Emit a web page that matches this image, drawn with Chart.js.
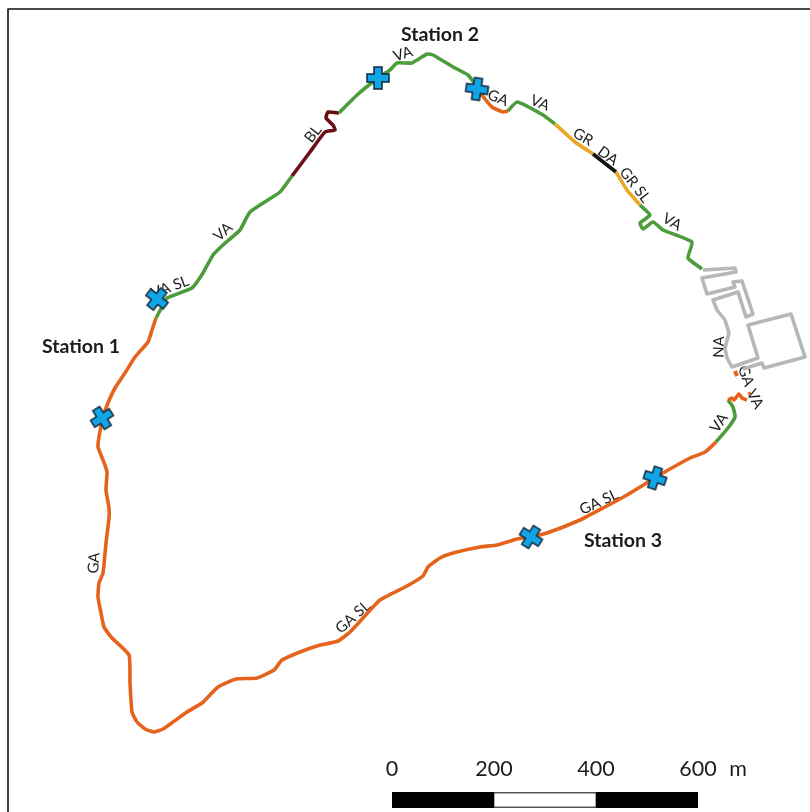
<!DOCTYPE html>
<html>
<head>
<meta charset="utf-8">
<style>
  html, body { margin: 0; background: #fff; }
  canvas { display: block; }
</style>
<script src="https://cdn.jsdelivr.net/npm/chart.js"></script>
</head>
<body>
<canvas id="chartMap" width="810" height="812"></canvas>
<script>
// route pieces as [east, south] in map units
const gaWest = [[156,318],[152,330],[148,342],[135,357],[125,373],[115,388],[108,403],[103,417],[99,437],[98,447],[103,460],[107,472],[106,490],[109,508],[109,518],[106,543],[103,573],[99,583],[98,597],[101,613],[104,627],[112,638],[129,655],[130,683],[132,712],[137,722],[145,729],[154,732],[163,729],[173,722],[187,712],[202,703],[218,687],[236,679],[257,678],[274,670],[282,660],[300,652],[317,646],[338,641],[350,632],[363,618],[380,600],[407,586],[423,576],[428,567],[440,558],[453,553],[480,547],[497,545],[517,539],[530,537],[547,533],[580,520],[603,508],[627,495],[655,478],[663,473],[690,458],[705,452],[716,442]];
const vaEast = [[716,442],[728,428],[735,417],[733,407],[728,400]];
const gaKink = [[728,400],[732,398],[734,400],[739,394],[742,398],[747,400]];
const gaDashA = [[735,371],[737,376]];
const gaDashB = [[749,392],[750,395]];
const vaNorthWest = [[156,318],[162,307],[167,298],[192,288],[203,273],[213,255],[223,245],[240,230],[250,212],[280,192],[292,176]];
const blStretch = [[292,176],[310,152],[325,132],[335,130],[333,125],[326,118],[328,112],[339,113]];
const vaNorth = [[339,113],[357,95],[378,78],[390,70],[397,63],[412,63],[427,54],[433,55],[453,67],[468,75],[478,88]];
const gaNorth = [[478,88],[482,95],[492,107],[503,112],[508,111]];
const vaNorthEast = [[508,111],[517,102],[543,115],[555,124]];
const grFirst = [[555,124],[575,142],[593,154]];
const daStretch = [[593,154],[616,172]];
const grSecond = [[616,172],[627,190],[640,205]];
const vaLast = [[640,205],[650,215],[640,223],[643,229],[653,222],[663,230],[692,242],[688,258],[702,269]];
const naOutline = [[703,270],[735,268],[736,272],[702,278],[707,294],[735,287],[733,282],[742,281],[753,314],[746,317],[738,292],[713,300],[717,310],[725,320],[729,333],[725,348],[727,358],[732,367],[758,358],[748,325],[791,314],[805,357],[764,368],[762,363],[743,369]];

const stationPoints = [[102,418],[157,299],[378,78],[477,89],[531,537],[655,478]];
const stationTurns = [-32,38,0,8,32,18];

const stationNames = ['Station 1', 'Station 2', 'Station 3'];
const stationNameSpots = [[81,347],[440,35],[623,541]];
const surfaceNames = ['VA','BL','VA','VA SL','GA','VA','GR','DA','GR SL','VA','NA','GA','VA','VA','GA','GA SL','GA SL'];
const surfaceSpots = [[403,54],[313,134],[223,232],[170,287],[498,98],[540,103],[583,137],[608,156],[635,185],[672,222],[719,347],[746,376],[755,399],[719,423],[94,563],[353,617],[599,502]];
const surfaceTurns = [-18,-52,-42,-20,22,22,30,35,52,30,-88,70,62,-55,-86,-42,-25];

const scaleTicks = [0, 200, 400, 600];
const scaleUnit = 'm';

const colors = { VA: '#4b9c3a', GA: '#e5631c', BL: '#6a0f14', GR: '#e6a825', DA: '#111111', NA: '#b7b7b7' };

// blue cross as a little canvas, chart.js rotates it per point
function makeCross() {
  const c = document.createElement('canvas');
  c.width = 26; c.height = 26;
  const g = c.getContext('2d');
  const a = 4, b = 11;
  g.translate(13, 13);
  g.beginPath();
  g.moveTo(-a,-b); g.lineTo(a,-b); g.lineTo(a,-a); g.lineTo(b,-a); g.lineTo(b,a); g.lineTo(a,a);
  g.lineTo(a,b); g.lineTo(-a,b); g.lineTo(-a,a); g.lineTo(-b,a); g.lineTo(-b,-a); g.lineTo(-a,-a);
  g.closePath();
  g.fillStyle = '#12a5e6';
  g.fill();
  g.lineWidth = 1.5;
  g.strokeStyle = '#10263a';
  g.stroke();
  return c;
}

const toPoints = (list) => list.map(p => ({ x: p[0], y: p[1] }));

function routeLine(list, color, width) {
  return {
    data: toPoints(list),
    showLine: true,
    borderColor: color,
    borderWidth: width || 3.6,
    borderJoinStyle: 'round',
    borderCapStyle: 'butt',
    tension: 0.15,
    pointRadius: 0,
    clip: false
  };
}

// scale bar follows the metre ticks
const barX = (m) => 392 + m * 0.51;
const barY = 800;

function barLine(from, to, color, width) {
  const d = routeLine([[barX(from), barY], [barX(to), barY]], color, width);
  d.tension = 0;
  return d;
}

const datasets = [
  // map frame
  Object.assign(routeLine([[8,812],[8,9],[810,9]], '#111111', 1.6), { tension: 0 }),
  // building outline has hard corners
  Object.assign(routeLine(naOutline, colors.NA, 3.6), { tension: 0 }),
  routeLine(gaWest, colors.GA),
  routeLine(vaEast, colors.VA),
  routeLine(gaKink, colors.GA),
  routeLine(gaDashA, colors.GA, 4),
  routeLine(gaDashB, colors.GA, 3),
  routeLine(vaNorthWest, colors.VA),
  routeLine(blStretch, colors.BL),
  routeLine(vaNorth, colors.VA),
  routeLine(gaNorth, colors.GA),
  routeLine(vaNorthEast, colors.VA),
  routeLine(grFirst, colors.GR),
  routeLine(daStretch, colors.DA),
  routeLine(grSecond, colors.GR),
  routeLine(vaLast, colors.VA),
  barLine(scaleTicks[0], scaleTicks[1], '#000000', 16),
  barLine(scaleTicks[2], scaleTicks[3], '#000000', 16),
  barLine(scaleTicks[1], scaleTicks[2], '#555555', 16),
  barLine(scaleTicks[1] + 1, scaleTicks[2] - 1, '#ffffff', 13),
  {
    data: toPoints(stationPoints),
    pointStyle: makeCross(),
    pointRotation: stationTurns,
    pointRadius: 12,
    clip: false
  }
];
// first dataset should sit at the bottom
datasets.forEach((d, i) => { d.order = datasets.length - i; });

const mapText = {
  id: 'mapText',
  beforeDatasetsDraw(chart) {
    const { ctx, scales } = chart;
    const put = (text, spot, turn, font) => {
      ctx.save();
      ctx.translate(scales.x.getPixelForValue(spot[0]), scales.y.getPixelForValue(spot[1]));
      ctx.rotate((turn || 0) * Math.PI / 180);
      ctx.font = font;
      ctx.fillStyle = '#1c1c1c';
      ctx.textAlign = 'center';
      ctx.textBaseline = 'middle';
      ctx.fillText(text, 0, 0);
      ctx.restore();
    };
    surfaceNames.forEach((t, i) => put(t, surfaceSpots[i], surfaceTurns[i], '15px Lato'));
    stationNames.forEach((t, i) => put(t, stationNameSpots[i], 0, 'bold 19.5px Lato'));
    scaleTicks.forEach(v => put(String(v), [barX(v), 769], 0, '21.5px Lato'));
    put(scaleUnit, [738, 769], 0, '21.5px Lato');
  }
};

new Chart(document.getElementById('chartMap'), {
  type: 'scatter',
  data: { datasets },
  options: {
    responsive: false,
    animation: false,
    layout: { padding: 0, autoPadding: false },
    plugins: { legend: { display: false }, tooltip: { enabled: false } },
    scales: {
      x: { type: 'linear', min: 0, max: 810, display: false },
      y: { type: 'linear', min: 0, max: 812, reverse: true, display: false }
    }
  },
  plugins: [mapText]
});
</script>
</body>
</html>
